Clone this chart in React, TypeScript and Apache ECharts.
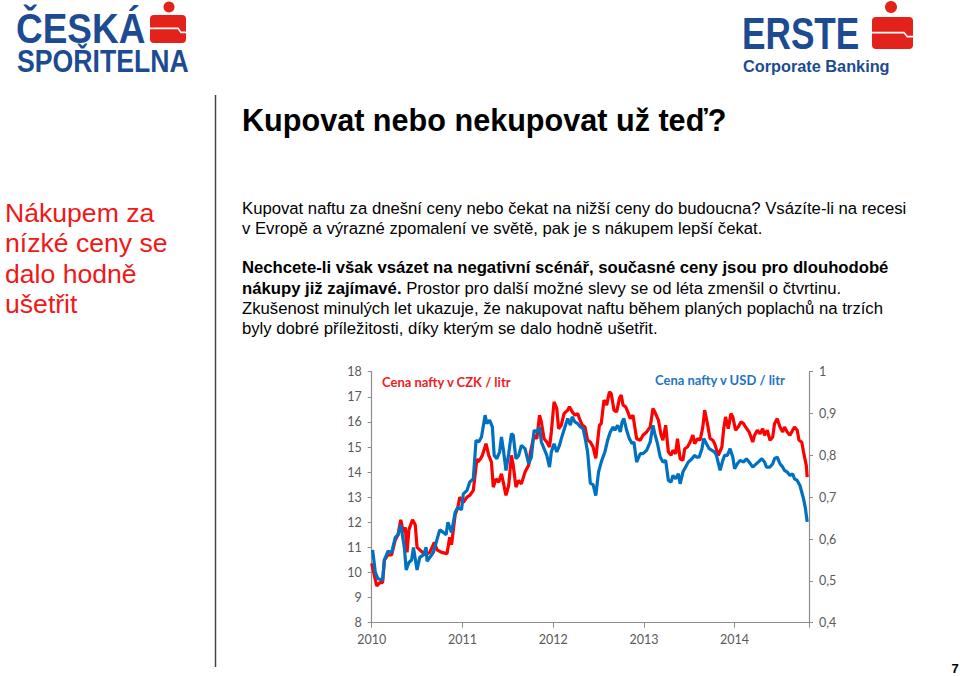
import React, { useEffect, useRef } from "react";
import * as echarts from "echarts";

// ---- Data ----
const yearTicks = [2010, 2011, 2012, 2013, 2014];

// Cena nafty v CZK / litr  [decimal year, CZK]
const czkSeries: [number, number][] = [
  [2010.0, 10.36], [2010.055, 9.47], [2010.09, 9.6], [2010.12, 9.6], [2010.14, 10.5], [2010.18, 10.7], [2010.22, 10.7], [2010.26, 11.3], [2010.29, 11.5], [2010.32, 12.1],
  [2010.35, 11.6], [2010.37, 11.8], [2010.39, 10.8], [2010.41, 11.7], [2010.45, 12.1], [2010.48, 11.9], [2010.5, 11.0], [2010.53, 10.9], [2010.59, 10.7], [2010.64, 10.8],
  [2010.69, 11.2], [2010.72, 10.9], [2010.77, 10.8], [2010.83, 10.75], [2010.86, 11.4], [2010.88, 11.1], [2010.92, 12.3], [2010.95, 12.6], [2010.97, 13.0],
  [2011.01, 12.8], [2011.05, 13.0], [2011.08, 13.07], [2011.12, 13.27], [2011.16, 14.53], [2011.17, 14.4], [2011.2, 14.53], [2011.22, 14.67], [2011.26, 15.13], [2011.29, 14.67],
  [2011.32, 14.4], [2011.34, 13.4], [2011.37, 13.73], [2011.4, 13.6], [2011.43, 13.93], [2011.45, 13.6], [2011.48, 13.07], [2011.51, 13.47], [2011.54, 14.67], [2011.56, 14.27],
  [2011.59, 13.4], [2011.62, 13.67], [2011.65, 13.53], [2011.69, 14.0], [2011.73, 14.27], [2011.75, 14.8], [2011.79, 15.47], [2011.82, 15.33], [2011.85, 16.27], [2011.87, 16.0],
  [2011.9, 15.33], [2011.93, 15.2], [2011.96, 15.0], [2011.98, 15.6],
  [2012.01, 16.8], [2012.04, 16.53], [2012.06, 15.73], [2012.09, 15.87], [2012.12, 16.33], [2012.16, 16.47], [2012.18, 16.6], [2012.21, 16.4], [2012.24, 16.27], [2012.27, 16.33],
  [2012.29, 16.13], [2012.32, 15.87], [2012.35, 15.8], [2012.38, 15.27], [2012.41, 15.2], [2012.44, 15.0], [2012.47, 14.55], [2012.51, 15.87], [2012.53, 15.93], [2012.56, 16.87],
  [2012.59, 16.67], [2012.62, 17.2], [2012.64, 17.13], [2012.67, 16.47], [2012.7, 16.4], [2012.73, 16.93], [2012.75, 17.07], [2012.77, 16.67], [2012.8, 16.6], [2012.83, 16.33],
  [2012.85, 16.13], [2012.88, 16.27], [2012.92, 15.33], [2012.96, 15.27], [2012.99, 15.47],
  [2013.03, 15.6], [2013.07, 15.8], [2013.1, 16.53], [2013.12, 16.4], [2013.16, 16.07], [2013.19, 15.47], [2013.21, 15.27], [2013.24, 15.87], [2013.27, 14.8], [2013.3, 14.67],
  [2013.32, 14.87], [2013.35, 14.73], [2013.37, 15.33], [2013.4, 14.53], [2013.43, 14.47], [2013.45, 14.93], [2013.48, 15.0], [2013.51, 15.2], [2013.54, 15.47], [2013.56, 15.13],
  [2013.59, 15.33], [2013.62, 15.27], [2013.65, 15.8], [2013.67, 16.47], [2013.7, 15.93], [2013.73, 15.33], [2013.76, 15.27], [2013.78, 15.13], [2013.82, 14.67], [2013.86, 15.0],
  [2013.88, 15.73], [2013.9, 16.2], [2013.93, 15.73], [2013.96, 16.33], [2013.98, 16.2],
  [2014.01, 15.67], [2014.04, 15.8], [2014.07, 16.0], [2014.1, 15.93], [2014.12, 15.8], [2014.16, 15.6], [2014.2, 15.2], [2014.22, 15.47], [2014.25, 15.67], [2014.28, 15.53],
  [2014.31, 15.73], [2014.33, 15.47], [2014.36, 15.67], [2014.39, 15.27], [2014.42, 15.4], [2014.44, 15.93], [2014.47, 16.13], [2014.5, 15.8], [2014.53, 15.6], [2014.55, 15.8],
  [2014.58, 15.6], [2014.61, 15.47], [2014.64, 15.67], [2014.66, 15.8], [2014.69, 15.67], [2014.71, 15.27], [2014.74, 15.2], [2014.76, 14.8], [2014.79, 14.27], [2014.8, 13.8],
];

// Cena nafty v USD / litr  [decimal year, USD]
const usdSeries: [number, number][] = [
  [2010.01, 0.574], [2010.04, 0.52], [2010.07, 0.505], [2010.12, 0.502], [2010.14, 0.55], [2010.18, 0.571], [2010.22, 0.568], [2010.26, 0.604], [2010.29, 0.61], [2010.32, 0.634],
  [2010.36, 0.58], [2010.38, 0.526], [2010.41, 0.544], [2010.44, 0.55], [2010.46, 0.58], [2010.5, 0.526], [2010.53, 0.556], [2010.57, 0.562], [2010.6, 0.58], [2010.61, 0.547],
  [2010.64, 0.556], [2010.68, 0.568], [2010.75, 0.622], [2010.79, 0.616], [2010.82, 0.61], [2010.84, 0.64], [2010.88, 0.616], [2010.92, 0.664], [2010.95, 0.676], [2010.99, 0.67],
  [2011.01, 0.708], [2011.05, 0.716], [2011.08, 0.736], [2011.12, 0.744], [2011.15, 0.836], [2011.18, 0.832], [2011.21, 0.844], [2011.25, 0.896], [2011.27, 0.876], [2011.3, 0.884],
  [2011.33, 0.868], [2011.35, 0.8], [2011.38, 0.792], [2011.41, 0.808], [2011.43, 0.844], [2011.45, 0.816], [2011.48, 0.764], [2011.51, 0.804], [2011.54, 0.852], [2011.56, 0.848],
  [2011.59, 0.792], [2011.62, 0.8], [2011.65, 0.824], [2011.69, 0.816], [2011.73, 0.78], [2011.76, 0.796], [2011.79, 0.86], [2011.82, 0.856], [2011.85, 0.868], [2011.87, 0.832],
  [2011.9, 0.816], [2011.93, 0.8], [2011.96, 0.772], [2011.98, 0.808],
  [2012.01, 0.828], [2012.04, 0.808], [2012.07, 0.824], [2012.09, 0.84], [2012.13, 0.868], [2012.16, 0.888], [2012.19, 0.872], [2012.21, 0.892], [2012.24, 0.88], [2012.27, 0.876],
  [2012.3, 0.868], [2012.33, 0.864], [2012.35, 0.844], [2012.38, 0.808], [2012.41, 0.733], [2012.44, 0.73], [2012.47, 0.704], [2012.5, 0.76], [2012.53, 0.784], [2012.57, 0.808],
  [2012.6, 0.836], [2012.63, 0.856], [2012.66, 0.868], [2012.68, 0.86], [2012.71, 0.872], [2012.74, 0.856], [2012.76, 0.88], [2012.78, 0.888], [2012.81, 0.86], [2012.84, 0.84],
  [2012.87, 0.828], [2012.89, 0.832], [2012.92, 0.784], [2012.96, 0.804], [2012.99, 0.804],
  [2013.03, 0.812], [2013.07, 0.832], [2013.1, 0.872], [2013.12, 0.852], [2013.15, 0.828], [2013.18, 0.796], [2013.21, 0.784], [2013.24, 0.788], [2013.27, 0.74], [2013.3, 0.736],
  [2013.32, 0.752], [2013.35, 0.744], [2013.38, 0.756], [2013.4, 0.732], [2013.43, 0.76], [2013.46, 0.772], [2013.49, 0.784], [2013.53, 0.792], [2013.56, 0.8], [2013.58, 0.796],
  [2013.61, 0.796], [2013.64, 0.816], [2013.66, 0.84], [2013.69, 0.828], [2013.72, 0.816], [2013.75, 0.812], [2013.78, 0.808], [2013.8, 0.8], [2013.84, 0.764], [2013.87, 0.788],
  [2013.89, 0.8], [2013.92, 0.8], [2013.95, 0.816], [2013.98, 0.796],
  [2014.0, 0.768], [2014.03, 0.78], [2014.06, 0.788], [2014.1, 0.784], [2014.13, 0.792], [2014.16, 0.784], [2014.2, 0.772], [2014.22, 0.776], [2014.26, 0.784], [2014.3, 0.792],
  [2014.33, 0.784], [2014.35, 0.772], [2014.39, 0.772], [2014.42, 0.78], [2014.44, 0.792], [2014.47, 0.796], [2014.5, 0.78], [2014.53, 0.772], [2014.55, 0.764], [2014.58, 0.76],
  [2014.61, 0.752], [2014.64, 0.756], [2014.66, 0.744], [2014.69, 0.74], [2014.72, 0.728], [2014.75, 0.704], [2014.76, 0.696], [2014.78, 0.674], [2014.8, 0.641],
];

const slideTitle = "Kupovat nebo nekupovat už teď?";
const sideText = ["Nákupem za", "nízké ceny se", "dalo hodně", "ušetřit"];
const para1 = [
  "Kupovat naftu za dnešní ceny nebo čekat na nižší ceny do budoucna? Vsázíte-li na recesi",
  "v Evropě a výrazné zpomalení ve světě, pak je s nákupem lepší čekat.",
];
const para2Bold1 = "Nechcete-li však vsázet na negativní scénář, současné ceny jsou pro dlouhodobé";
const para2Bold2 = "nákupy již zajímavé.";
const para2Rest = [
  " Prostor pro další možné slevy se od léta zmenšil o čtvrtinu.",
  "Zkušenost minulých let ukazuje, že nakupovat naftu během planých poplachů na trzích",
  "byly dobré příležitosti, díky kterým se dalo hodně ušetřit.",
];
const czkLabel = "Cena nafty v CZK / litr";
const usdLabel = "Cena nafty v USD / litr";

const SANS = '"Liberation Sans", Arial, sans-serif';
const CAL = 'Lato, "Open Sans", sans-serif';
const BRAND_BLUE = "#1d4b92";
const BRAND_RED = "#e3231b";
const RED = "#ff0000";
const BLUE = "#0070c0";
const AXIS = "#8c8c8c";
const LABEL = "#595959";
const PF = 16.7;

function logo(x: number, y: number, w: number, h: number, dotX: number, dotY: number, r: number) {
  const mid = y + h * 0.55;
  return [
    { type: "circle", shape: { cx: dotX, cy: dotY, r }, style: { fill: BRAND_RED } },
    { type: "rect", shape: { x, y, width: w, height: h, r: 4 }, style: { fill: BRAND_RED } },
    {
      type: "polyline",
      shape: { points: [[x, mid - 2], [x + w * 0.78, mid - 2], [x + w * 0.86, mid + 2], [x + w, mid + 2]] },
      style: { stroke: "#ffffff", lineWidth: 1.6, fill: "none" },
    },
  ];
}

export default function App() {
  const ref = useRef<HTMLDivElement>(null);
  useEffect(() => {
    document.body.style.margin = "0";
    const chart = echarts.init(ref.current!, undefined, { renderer: "svg" });

    const graphics: any[] = [
      // Česká spořitelna logo
      { type: "text", x: 16, y: 28, scaleX: 0.88, style: { text: "ČESKÁ", font: `bold 42px ${SANS}`, fill: BRAND_BLUE, verticalAlign: "middle" } },
      { type: "text", x: 17, y: 61, scaleX: 0.86, style: { text: "SPOŘITELNA", font: `bold 31px ${SANS}`, fill: BRAND_BLUE, verticalAlign: "middle" } },
      ...logo(150, 15, 36, 28, 169, 7, 5.5),
      // Erste logo
      { type: "text", x: 742, y: 34, scaleX: 0.8, style: { text: "ERSTE", font: `bold 44px ${SANS}`, fill: BRAND_BLUE, verticalAlign: "middle" } },
      ...logo(872, 17, 41, 32, 891, 7, 6),
      { type: "text", x: 743, y: 66, style: { text: "Corporate Banking", font: `bold 16.3px ${SANS}`, fill: BRAND_BLUE, verticalAlign: "middle" } },
      // divider
      { type: "line", shape: { x1: 215.5, y1: 95, x2: 215.5, y2: 667 }, style: { stroke: "#444444", lineWidth: 1.5 } },
      // title
      { type: "text", x: 242, y: 120, style: { text: slideTitle, font: `bold 30.6px ${SANS}`, fill: "#000000", verticalAlign: "middle" } },
      // side text
      ...sideText.map((t, i) => ({
        type: "text", x: 5, y: 213 + i * 30.3,
        style: { text: t, font: `26.6px ${SANS}`, fill: "#f01818", verticalAlign: "middle" },
      })),
      // paragraphs
      ...para1.map((t, i) => ({
        type: "text", x: 242, y: 208 + i * 20,
        style: { text: t, font: `${PF}px ${SANS}`, fill: "#000000", verticalAlign: "middle" },
      })),
      { type: "text", x: 242, y: 267, style: { text: para2Bold1, font: `bold ${PF}px ${SANS}`, fill: "#000000", verticalAlign: "middle" } },
      {
        type: "text", x: 242, y: 288,
        style: {
          text: `{b|${para2Bold2}}{n|${para2Rest[0]}}`,
          verticalAlign: "middle",
          rich: {
            b: { font: `bold ${PF}px ${SANS}`, fill: "#000000" },
            n: { font: `${PF}px ${SANS}`, fill: "#000000" },
          },
        },
      },
      ...para2Rest.slice(1).map((t, i) => ({
        type: "text", x: 242, y: 308 + i * 20,
        style: { text: t, font: `${PF}px ${SANS}`, fill: "#000000", verticalAlign: "middle" },
      })),
      // page number
      { type: "text", x: 955, y: 668, style: { text: "7", font: `bold 13px ${SANS}`, fill: "#000000", align: "center", verticalAlign: "middle" } },
      // chart labels
      { type: "text", x: 382, y: 382, style: { text: czkLabel, font: `bold 13px ${CAL}`, fill: "#ee1c25", verticalAlign: "middle" } },
      { type: "text", x: 655, y: 380, style: { text: usdLabel, font: `bold 13px ${CAL}`, fill: "#1f74c2", verticalAlign: "middle" } },
    ];

    chart.setOption({
      animation: false,
      backgroundColor: "#ffffff",
      grid: { left: 371.7, right: 151, top: 371.7, bottom: 53.3, containLabel: false },
      xAxis: {
        type: "value",
        min: yearTicks[0],
        max: 2014.82,
        interval: 1,
        splitLine: { show: false },
        axisLine: { show: true, lineStyle: { color: AXIS, width: 1.2 } },
        axisTick: { show: true, length: 5, lineStyle: { color: AXIS } },
        axisLabel: {
          color: LABEL,
          fontFamily: CAL,
          fontSize: 12.5,
          margin: 10,
          formatter: (v: number) => (yearTicks.includes(Math.round(v * 1000) / 1000) ? String(v) : ""),
        },
      },
      yAxis: [
        {
          type: "value",
          min: 8,
          max: 18,
          interval: 1,
          position: "left",
          splitLine: { show: false },
          axisLine: { show: true, lineStyle: { color: AXIS, width: 1.2 } },
          axisTick: { show: true, length: 4, lineStyle: { color: AXIS } },
          axisLabel: { color: LABEL, fontFamily: CAL, fontSize: 12.5, margin: 10 },
        },
        {
          type: "value",
          min: 0.4,
          max: 1,
          interval: 0.1,
          position: "right",
          splitLine: { show: false },
          axisLine: { show: true, lineStyle: { color: AXIS, width: 1.2 } },
          axisTick: { show: true, length: 4, lineStyle: { color: AXIS } },
          axisLabel: {
            color: LABEL,
            fontFamily: CAL,
            fontSize: 12.5,
            margin: 10,
            formatter: (v: number) => String(Math.round(v * 10) / 10).replace(".", ","),
          },
        },
      ],
      series: [
        {
          name: czkLabel,
          type: "line",
          yAxisIndex: 0,
          data: czkSeries,
          showSymbol: false,
          lineStyle: { color: RED, width: 3.2 },
          itemStyle: { color: RED },
          z: 2,
        },
        {
          name: usdLabel,
          type: "line",
          yAxisIndex: 1,
          data: usdSeries,
          showSymbol: false,
          lineStyle: { color: BLUE, width: 3.2 },
          itemStyle: { color: BLUE },
          z: 3,
        },
      ],
      graphic: graphics,
    });
    return () => chart.dispose();
  }, []);
  return <div ref={ref} style={{ position: "fixed", left: 0, top: 0, width: 960, height: 676 }} />;
}
